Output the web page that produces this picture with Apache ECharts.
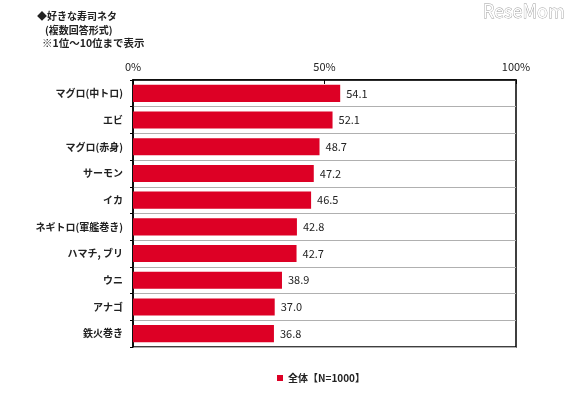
<!DOCTYPE html>
<html>
<head>
<meta charset="utf-8">
<script src="https://cdn.jsdelivr.net/npm/echarts@6/dist/echarts.min.js"></script>
<style>
  html, body { margin: 0; padding: 0; background: #fff; }
  #chart { width: 570px; height: 396px; }
</style>
</head>
<body>
<div id="chart"></div>
<script>
// 好きな寿司ネタ（上位10位）
const categories = ['マグロ(中トロ)', 'エビ', 'マグロ(赤身)', 'サーモン', 'イカ', 'ネギトロ(軍艦巻き)', 'ハマチ, ブリ', 'ウニ', 'アナゴ', '鉄火巻き'];
const values = [54.1, 52.1, 48.7, 47.2, 46.5, 42.8, 42.7, 38.9, 37.0, 36.8];
const seriesName = '全体【N=1000】';
const tickValues = [0, 50, 100];

const font = '"Noto Sans CJK JP", "Noto Sans", sans-serif';
const chart = echarts.init(document.getElementById('chart'));

const option = {
    backgroundColor: '#fff',
    animation: false,
    textStyle: { fontFamily: font },
    graphic: [
        {
            type: 'text', left: 37, top: 11,
            style: { text: '◆好きな寿司ネタ', font: 'bold 10px ' + font, fill: '#222' }
        },
        {
            type: 'text', left: 45, top: 25,
            style: { text: '(複数回答形式)', font: 'bold 10px ' + font, fill: '#222' }
        },
        {
            type: 'text', left: 42, top: 38,
            style: { text: '※1位～10位まで表示', font: 'bold 10.5px ' + font, fill: '#222' }
        },
        {
            type: 'text', right: 5, top: 2,
            style: { text: 'ReseMom', font: '18px ' + font, fill: '#fff', stroke: '#9a9a9a', lineWidth: 0.8 }
        }
    ],
    grid: {
        left: 133,
        right: 54,
        top: 80,
        bottom: 49,
        show: true,
        borderColor: '#000',
        borderWidth: 1.5
    },
    legend: {
        bottom: 8,
        left: 272,
        icon: 'rect',
        itemWidth: 6,
        itemHeight: 6,
        itemGap: 4,
        textStyle: { fontSize: 10, fontWeight: 'bold', color: '#222', fontFamily: font },
        data: [seriesName]
    },
    xAxis: {
        type: 'value',
        position: 'top',
        min: tickValues[0],
        max: tickValues[tickValues.length - 1],
        interval: 50,
        axisLine: { show: true, lineStyle: { color: '#000', width: 1.5 } },
        axisTick: { show: true, inside: true, length: 4, lineStyle: { color: '#000' } },
        axisLabel: {
            formatter: '{value}%',
            color: '#222',
            fontSize: 11,
            fontFamily: font,
            margin: 8
        },
        splitLine: { show: false }
    },
    yAxis: {
        type: 'category',
        inverse: true,
        data: categories,
        axisLine: { show: true, lineStyle: { color: '#000', width: 1.5 } },
        axisTick: { show: true, length: 3, lineStyle: { color: '#000' } },
        axisLabel: {
            color: '#222',
            fontSize: 10,
            fontWeight: 'bold',
            fontFamily: font,
            margin: 10
        },
        splitLine: { show: true, lineStyle: { color: '#b0b0b0', width: 1 } }
    },
    series: [
        {
            name: seriesName,
            type: 'bar',
            data: values,
            barCategoryGap: '36%',
            itemStyle: { color: '#dd0025' },
            label: {
                show: true,
                position: 'right',
                distance: 6,
                color: '#222',
                fontSize: 11,
                fontFamily: font,
                formatter: (p) => p.value.toFixed(1)
            }
        }
    ]
};
chart.setOption(option);
</script>
</body>
</html>
